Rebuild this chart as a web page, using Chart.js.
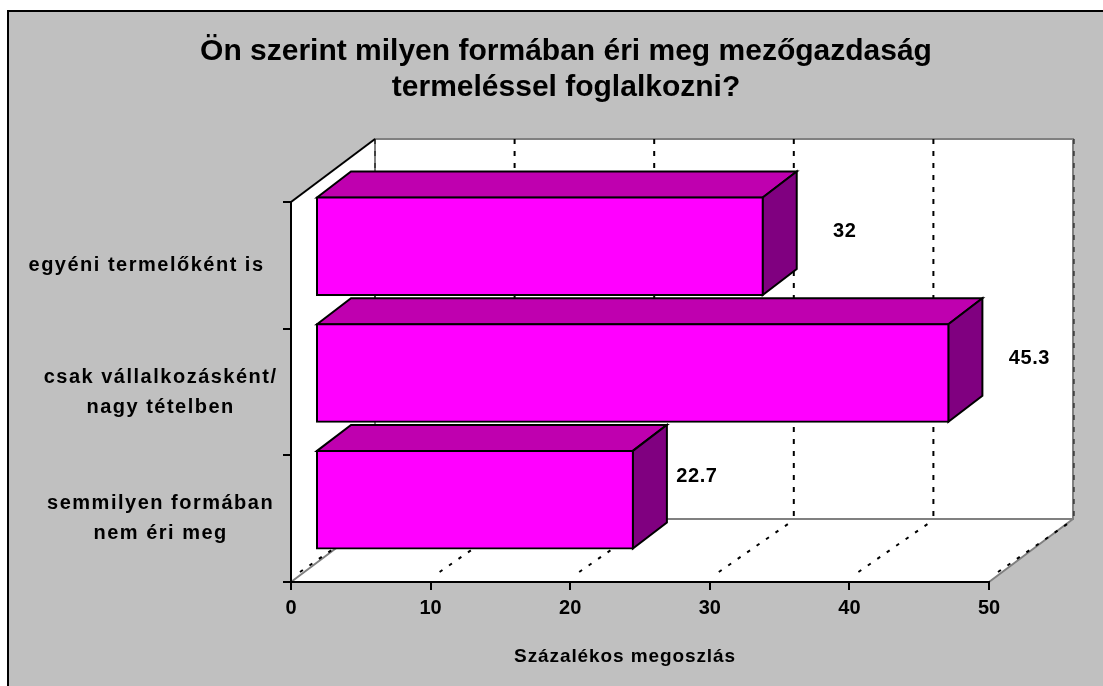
<!DOCTYPE html>
<html><head><meta charset="utf-8">
<style>html,body{margin:0;padding:0;background:#fff}canvas{display:block}</style>
<script src="https://cdn.jsdelivr.net/npm/chart.js@4/dist/chart.umd.js"></script>
</head><body><canvas id="c" width="1103" height="686"></canvas>
<script>
const titleLines = ["Ön szerint milyen formában éri meg mezőgazdaság", "termeléssel foglalkozni?"];
const categories = [["egyéni termelőként is    "], ["csak vállalkozásként/", "nagy tételben"], ["semmilyen formában", "nem éri meg"]];
const values = [32, 45.3, 22.7];
const valueLabels = ["32", "45.3", "22.7"];
const axisTitle = "Százalékos megoszlás";
const FONT = '"Liberation Sans", Arial, sans-serif';

const wallDx = 84, wallDy = -63;      // depth of the plot box
const barShiftX = 25, barShiftY = -19; // bars sit part-way into the box
const barDx = 34, barDy = -26;        // depth of each bar
const labelNudge = [[48, -15], [47, -15], [30, -23]];

function spaced(obj, method, ctx, sp, dx) {
  const f = obj[method];
  obj[method] = function (...a) {
    ctx.save();
    ctx.letterSpacing = sp;
    ctx.translate(dx, 0);
    f.apply(this, a);
    ctx.restore();
  };
}

const box3d = {
  id: 'box3d',
  afterLayout(chart) {
    chart.titleBlock.left = 29; chart.titleBlock.right = 1103;
    if (!chart.$spaced) {
      chart.$spaced = true;
      spaced(chart.scales.y, 'drawLabels', chart.ctx, '1.5px', 0);
      spaced(chart.scales.x, 'drawTitle', chart.ctx, '0.9px', -15);
    }
  },
  beforeDraw(chart) {
    const {ctx, chartArea: a, scales: {x}} = chart;
    ctx.save();
    ctx.fillStyle = '#fff'; ctx.fillRect(0, 0, 1103, 686);
    ctx.fillStyle = '#C0C0C0'; ctx.fillRect(8, 11, 1095, 675);
    ctx.strokeStyle = '#000'; ctx.lineWidth = 2;
    ctx.beginPath(); ctx.moveTo(8, 686); ctx.lineTo(8, 11); ctx.lineTo(1103, 11); ctx.stroke();
    // walls and floor
    ctx.fillStyle = '#fff';
    ctx.beginPath();
    ctx.moveTo(a.left, a.top); ctx.lineTo(a.left + wallDx, a.top + wallDy);
    ctx.lineTo(a.right + wallDx, a.top + wallDy); ctx.lineTo(a.right + wallDx, a.bottom + wallDy);
    ctx.lineTo(a.right, a.bottom); ctx.lineTo(a.left, a.bottom); ctx.closePath(); ctx.fill();
    // gray edges
    ctx.strokeStyle = '#808080'; ctx.lineWidth = 2;
    ctx.strokeRect(a.left + wallDx, a.top + wallDy, a.right - a.left, a.bottom - a.top);
    ctx.beginPath();
    ctx.moveTo(a.left, a.bottom); ctx.lineTo(a.left + wallDx, a.bottom + wallDy);
    ctx.moveTo(a.right, a.bottom); ctx.lineTo(a.right + wallDx, a.bottom + wallDy);
    ctx.stroke();
    // dashed gridlines: back wall and floor
    ctx.strokeStyle = '#000';
    x.ticks.forEach((t, i) => {
      const px = x.getPixelForValue(t.value);
      const last = i === x.ticks.length - 1;
      ctx.setLineDash([5, 7]);
      ctx.lineWidth = (i === 0 || last) ? 1 : 2;
      ctx.beginPath();
      ctx.moveTo(px + wallDx + (last ? 1 : 0), a.top + wallDy);
      ctx.lineTo(px + wallDx + (last ? 1 : 0), a.bottom + wallDy);
      ctx.stroke();
      ctx.setLineDash([3.5, 8]);
      ctx.lineWidth = 2;
      ctx.beginPath(); ctx.moveTo(px + 9, a.bottom - 10); ctx.lineTo(px + wallDx, a.bottom + wallDy + 1);
      ctx.stroke();
    });
    ctx.setLineDash([]);
    // black top-left edge
    ctx.strokeStyle = '#000'; ctx.lineWidth = 2;
    ctx.beginPath(); ctx.moveTo(a.left, a.top); ctx.lineTo(a.left + wallDx, a.top + wallDy); ctx.stroke();
    ctx.restore();
  },
  beforeDatasetsDraw(chart) {
    const {ctx} = chart;
    ctx.save();
    ctx.translate(barShiftX, barShiftY);
    ctx.lineWidth = 2; ctx.strokeStyle = '#000'; ctx.lineJoin = 'miter';
    chart.getDatasetMeta(0).data.forEach(b => {
      const p = b.getProps(['x', 'y', 'base', 'height']);
      const t = p.y - p.height / 2, bot = p.y + p.height / 2;
      ctx.fillStyle = '#BF00AF';
      ctx.beginPath();
      ctx.moveTo(p.base, t); ctx.lineTo(p.base + barDx, t + barDy);
      ctx.lineTo(p.x + barDx, t + barDy); ctx.lineTo(p.x, t); ctx.closePath();
      ctx.fill(); ctx.stroke();
      ctx.fillStyle = '#800080';
      ctx.beginPath();
      ctx.moveTo(p.x, t); ctx.lineTo(p.x + barDx, t + barDy);
      ctx.lineTo(p.x + barDx, bot + barDy); ctx.lineTo(p.x, bot); ctx.closePath();
      ctx.fill(); ctx.stroke();
    });
  },
  afterDatasetsDraw(chart) {
    const {ctx} = chart;
    const pts = chart.getDatasetMeta(0).data;
    ctx.fillStyle = '#000'; ctx.font = 'bold 20px ' + FONT; ctx.letterSpacing = '0.6px';
    ctx.textAlign = 'center'; ctx.textBaseline = 'middle';
    pts.forEach((b, i) => {
      const p = b.getProps(['x', 'y']);
      ctx.fillText(valueLabels[i], p.x + barDx + labelNudge[i][0], p.y + labelNudge[i][1]);
    });
    ctx.letterSpacing = '0px';
    ctx.restore();
  }
};

new Chart(document.getElementById('c'), {
  type: 'bar',
  data: { labels: categories, datasets: [{
    data: values, backgroundColor: '#FF00FF', borderColor: '#000', borderWidth: 2,
    borderSkipped: false, inflateAmount: 1, barPercentage: 0.77, categoryPercentage: 1, clip: false
  }]},
  plugins: [box3d],
  options: {
    indexAxis: 'y', responsive: false, animation: false,
    layout: { padding: { left: 0, right: 114, top: 0, bottom: 0 } },
    plugins: {
      legend: { display: false }, tooltip: { enabled: false },
      title: { display: true, text: titleLines, color: '#000',
        font: { family: FONT, size: 30, weight: 'bold', lineHeight: 1.2 },
        padding: { top: 34, bottom: 96 } }
    },
    scales: {
      x: { min: 0, max: 50,
        afterFit(s) { s.height = 104; },
        ticks: { stepSize: 10, color: '#000', padding: 6, maxRotation: 0,
          font: { family: FONT, size: 20, weight: 'bold' } },
        grid: { drawOnChartArea: false, tickLength: 8, color: '#000', lineWidth: 2 },
        border: { color: '#000', width: 2 },
        title: { display: true, text: axisTitle, color: '#000', padding: { top: 0, bottom: 18 },
          font: { family: FONT, size: 19, weight: 'bold' } } },
      y: {
        afterFit(s) { s.width = 291; },
        ticks: { color: '#000', crossAlign: 'center', padding: 9, autoSkip: false,
          font: { family: FONT, size: 20, weight: 'bold', lineHeight: 1.5 } },
        grid: { drawOnChartArea: false, tickLength: 8, color: '#000', lineWidth: 2 },
        border: { color: '#000', width: 2 } }
    }
  }
});
</script></body></html>
